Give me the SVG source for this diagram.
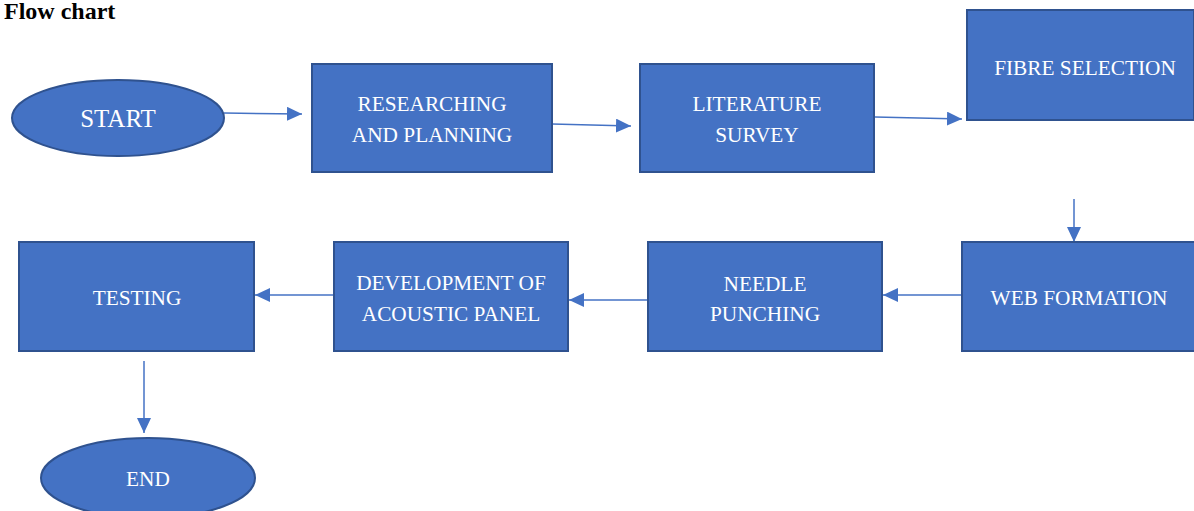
<svg xmlns="http://www.w3.org/2000/svg" width="1194" height="511" viewBox="0 0 1194 511">
<defs>
<style>
.n{fill:#4472C4;stroke:#2F528F;stroke-width:2}
.t{fill:#fff;font-family:'Liberation Serif','DejaVu Serif',serif;font-size:21.3px;text-anchor:middle}
.c{stroke:#4472C4;stroke-width:1.5;fill:none;marker-end:url(#a)}
.h{font-family:'Liberation Serif','DejaVu Serif',serif;font-size:24px;font-weight:bold;fill:#000}
</style>
<marker id="a" markerWidth="16" markerHeight="14" refX="15" refY="7" orient="auto" markerUnits="userSpaceOnUse">
<path d="M0,0 L15,7 L0,14 Z" fill="#4472C4"/>
</marker>
</defs>
<rect width="1194" height="511" fill="#fff"/>
<text class="h" x="4" y="19">Flow chart</text>
<g id="connectors">
<line class="c" x1="224" y1="113" x2="302" y2="114"/>
<line class="c" x1="552" y1="124" x2="631" y2="126"/>
<line class="c" x1="875" y1="117" x2="962" y2="119"/>
<line class="c" x1="1074" y1="199" x2="1074" y2="242"/>
<line class="c" x1="962" y1="295" x2="883" y2="295"/>
<line class="c" x1="648" y1="300" x2="569" y2="300"/>
<line class="c" x1="334" y1="295" x2="255" y2="295"/>
<line class="c" x1="144" y1="361" x2="144" y2="433"/>
</g>
<g id="start"><ellipse class="n" cx="118" cy="118" rx="106" ry="38"/><text class="t" x="118" y="127" style="font-size:25px">START</text></g>
<g id="research"><rect class="n" x="312" y="64" width="240" height="108"/><text class="t" x="432" y="111">RESEARCHING</text><text class="t" x="432" y="142">AND PLANNING</text></g>
<g id="literature"><rect class="n" x="640" y="64" width="234" height="108"/><text class="t" x="757" y="111">LITERATURE</text><text class="t" x="757" y="142">SURVEY</text></g>
<g id="fibre"><rect class="n" x="967" y="10" width="227" height="110"/><text class="t" x="1085" y="75">FIBRE SELECTION</text></g>
<g id="web"><rect class="n" x="962" y="242" width="233" height="109"/><text class="t" x="1079" y="305">WEB FORMATION</text></g>
<g id="needle"><rect class="n" x="648" y="242" width="234" height="109"/><text class="t" x="765" y="291">NEEDLE</text><text class="t" x="765" y="321">PUNCHING</text></g>
<g id="development"><rect class="n" x="334" y="242" width="234" height="109"/><text class="t" x="451" y="290">DEVELOPMENT OF</text><text class="t" x="451" y="321">ACOUSTIC PANEL</text></g>
<g id="testing"><rect class="n" x="19" y="242" width="235" height="109"/><text class="t" x="137" y="305">TESTING</text></g>
<g id="end"><ellipse class="n" cx="148" cy="478" rx="107" ry="40"/><text class="t" x="148" y="486">END</text></g>
</svg>
